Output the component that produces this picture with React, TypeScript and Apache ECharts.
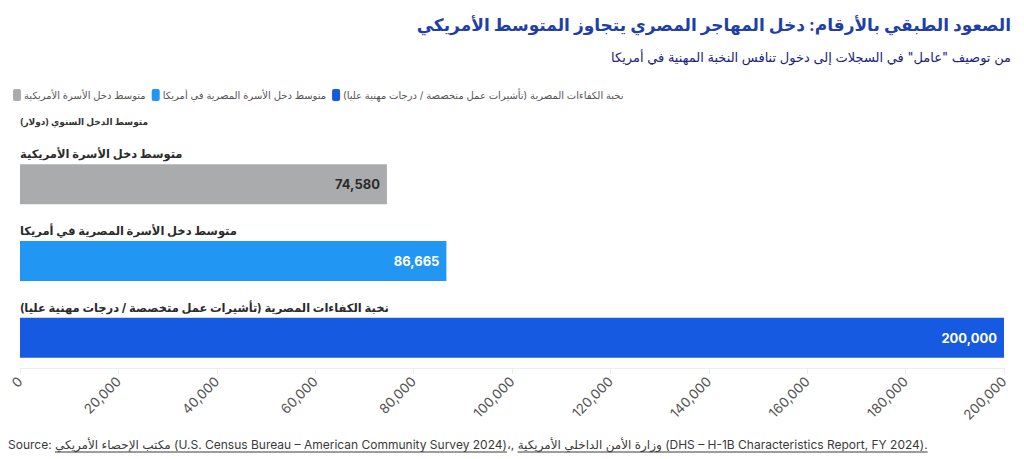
import { useEffect, useRef } from "react";
import * as echarts from "echarts";

const RLM = "\u200F";

const titleText = "الصعود الطبقي بالأرقام: دخل المهاجر المصري يتجاوز المتوسط الأمريكي";
const subtitleText = 'من توصيف "عامل" في السجلات إلى دخول تنافس النخبة المهنية في أمريكا';
const axisName = "متوسط الدخل السنوي (دولار)";

const categories = [
    "متوسط دخل الأسرة الأمريكية",
    "متوسط دخل الأسرة المصرية في أمريكا",
    "نخبة الكفاءات المصرية (تأشيرات عمل متخصصة / درجات مهنية عليا)",
];
const values = [74580, 86665, 200000];
const barColors = ["#a9abad", "#2196f3", "#155ae0"];
const labelColors = ["#2b2b2b", "#ffffff", "#ffffff"];

const xMax = 200000;
const xInterval = 20000;

const sourcePrefix = "Source: ";
const sourceParts = [
    "مكتب الإحصاء الأمريكي (U.S. Census Bureau – American Community Survey 2024)",
    "،, ",
    "وزارة الأمن الداخلي الأمريكية (DHS – H-1B Characteristics Report, FY 2024).",
];

const FONT = "Inter, 'Noto Sans', 'DejaVu Sans', sans-serif";

const rtl = (s: string) => RLM + s + RLM;

function measure(text: string, font: string) {
    const ctx = document.createElement("canvas").getContext("2d");
    if (!ctx) return text.length * 7;
    ctx.font = font;
    return ctx.measureText(text).width;
}

export default function App() {
    const chartRef = useRef<HTMLDivElement | null>(null);

    useEffect(() => {
        if (!chartRef.current) return;
        const chart = echarts.init(chartRef.current, undefined, { renderer: "svg" });

        const footFont = `12px ${FONT}`;
        const footLeft = 8;
        const footY = 452;
        const wPrefix = measure(sourcePrefix, footFont);
        const w1 = measure(sourceParts[0], footFont);
        const w2 = measure(sourceParts[1], footFont);
        const w3 = measure(sourceParts[2], footFont);
        const u1Start = footLeft + wPrefix;
        const u2Start = u1Start + w1 + w2;

        const option: echarts.EChartsOption = {
            animation: false,
            backgroundColor: "#ffffff",
            title: [
                {
                    text: titleText,
                    right: 8,
                    top: 11,
                    textStyle: { color: "#1f3fa8", fontSize: 17, fontWeight: "bold", fontFamily: FONT },
                },
                {
                    text: subtitleText,
                    right: 8,
                    top: 45,
                    textStyle: { color: "#1a237e", fontSize: 13, fontWeight: "normal", fontFamily: FONT },
                },
            ],
            legend: {
                left: 8,
                top: 84,
                itemWidth: 8,
                itemHeight: 12,
                itemGap: 6,
                icon: "roundRect",
                data: categories.map((c) => rtl(c)),
                textStyle: { color: "#555", fontSize: 10, fontFamily: FONT, padding: [0, 0, 0, -2] },
            },
            grid: { left: 20, right: 20, top: 146, bottom: 83 },
            xAxis: {
                type: "value",
                min: 0,
                max: xMax,
                interval: xInterval,
                offset: -8,
                axisLine: { show: true, lineStyle: { color: "#ececec" } },
                axisTick: { show: true, length: 6, lineStyle: { color: "#ececec" } },
                splitLine: { show: false },
                axisLabel: {
                    rotate: 45,
                    margin: 11,
                    color: "#555",
                    fontSize: 13.5,
                    fontFamily: FONT,
                    formatter: (v: number) => v.toLocaleString("en-US"),
                },
            },
            yAxis: {
                type: "category",
                inverse: true,
                data: categories.map((c) => rtl(c)),
                name: rtl(axisName),
                nameLocation: "start",
                nameGap: 25,
                nameTextStyle: {
                    align: "left",
                    verticalAlign: "middle",
                    color: "#333",
                    fontSize: 9,
                    fontWeight: "bold",
                    fontFamily: FONT,
                },
                axisLine: { show: false },
                axisTick: { show: false },
                axisLabel: {
                    inside: true,
                    margin: 0,
                    align: "left",
                    verticalAlign: "bottom",
                    padding: [0, 0, 24, 0],
                    color: "#2b2b2b",
                    fontSize: 11.5,
                    fontWeight: "bold",
                    fontFamily: FONT,
                },
            },
            series: categories.map((c, i) => ({
                name: rtl(c),
                type: "bar",
                stack: "all",
                barWidth: 40,
                data: values.map((v, j) => (j === i ? v : null)),
                itemStyle: { color: barColors[i] },
                label: {
                    show: true,
                    position: "insideRight",
                    distance: 7,
                    color: labelColors[i],
                    fontSize: 13,
                    fontWeight: "bold",
                    fontFamily: FONT,
                    formatter: (p: any) => Number(p.value).toLocaleString("en-US"),
                },
            })),
            graphic: [
                {
                    type: "text",
                    left: footLeft,
                    top: footY - 14,
                    style: {
                        text: sourcePrefix + sourceParts.join(""),
                        fill: "#3a3a3a",
                        font: footFont,
                    },
                },
                {
                    type: "line",
                    shape: { x1: u1Start, y1: footY, x2: u1Start + w1, y2: footY },
                    style: { stroke: "#3a3a3a", lineWidth: 1 },
                },
                {
                    type: "line",
                    shape: { x1: u2Start, y1: footY, x2: u2Start + w3, y2: footY },
                    style: { stroke: "#3a3a3a", lineWidth: 1 },
                },
            ],
        };

        chart.setOption(option);
        const handleResize = () => chart.resize();
        window.addEventListener("resize", handleResize);
        return () => {
            window.removeEventListener("resize", handleResize);
            chart.dispose();
        };
    }, []);

    return (
        <div
            ref={chartRef}
            style={{ position: "fixed", left: 0, top: 0, width: "1024px", height: "459px" }}
        />
    );
}
